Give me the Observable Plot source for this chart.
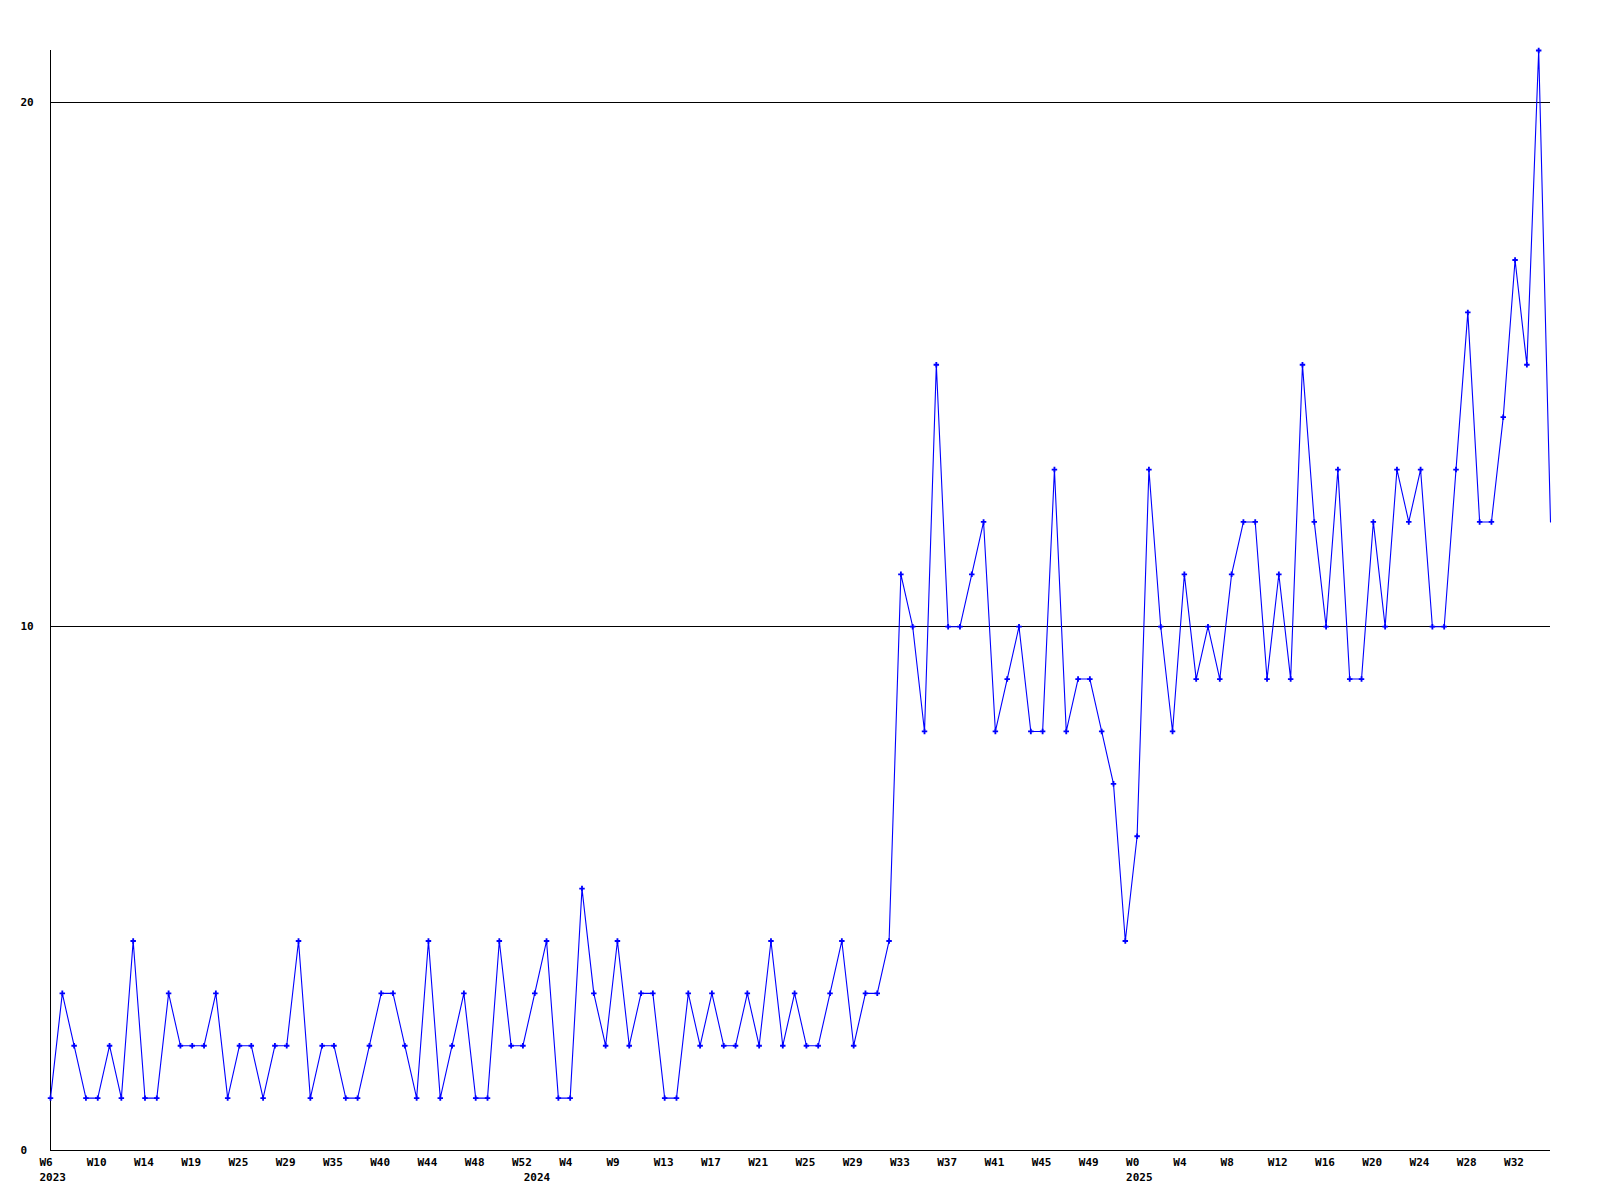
<!DOCTYPE html>
<html><head><meta charset="utf-8">
<script src="https://cdn.jsdelivr.net/npm/d3@7"></script>
<script src="https://cdn.jsdelivr.net/npm/@observablehq/plot@0.6"></script>
<style>body{margin:0;background:#fff}</style>
</head><body><div id="chart"></div>
<script>
const values = [
  1,3,2,1,1,2,1,4,1,1,3,2,2,2,3,1,2,2,1,2,2,4,1,2,2,1,1,2,3,3,2,1,4,1,2,3,1,1,4,2,2,3,4,1,
  1,5,3,2,4,2,3,3,1,1,3,2,3,2,2,3,2,4,2,3,2,2,3,4,2,3,3,4,
  11,10,8,15,10,10,11,12,8,9,10,8,8,13,8,9,9,8,7,4,6,13,10,8,11,9,10,9,11,
  12,12,9,11,9,15,12,10,13,9,9,12,10,13,12,13,10,10,13,16,12,12,14,17,15,21,12
];
const weekLabels = ["W6","W10","W14","W19","W25","W29","W35","W40","W44","W48","W52",
  "W4","W9","W13","W17","W21","W25","W29","W33","W37","W41","W45","W49",
  "W0","W4","W8","W12","W16","W20","W24","W28","W32"];
const labelStep = 4;
const yearLabels = ["2023","2024","2025"];
const yearStarts = [0,41,92];
const yTicks = [0,10,20];
const yMax = 21;

const data = values.map((v,i)=>({i, v}));
const tickIdx = weekLabels.map((_,k)=>k*labelStep);

const chart = Plot.plot({
  width:1600, height:1200, marginLeft:50, marginRight:50, marginTop:50, marginBottom:50,
  style:{fontFamily:"'DejaVu Sans Mono', monospace", fontSize:"11px", fontWeight:"bold", color:"#000", background:"#fff"},
  x:{type:"linear", domain:[0, values.length-1], axis:null},
  y:{domain:[0,yMax], axis:null},
  marks:[
    Plot.ruleY([10,20], {stroke:"#000", strokeWidth:1, shapeRendering:"crispEdges"}),
    Plot.ruleY([0], {stroke:"#000", shapeRendering:"crispEdges"}),
    Plot.ruleX([0], {stroke:"#000", shapeRendering:"crispEdges"}),
    Plot.line(data, {x:"i", y:"v", stroke:"#0000ff", strokeWidth:1.1}),
    Plot.dot(data.slice(0,-1), {x:"i", y:"v", symbol:"cross", r:2.3, fill:"#0000ff", stroke:"none"}),
    Plot.text(yTicks, {y:d=>d, text:d=>String(d), frameAnchor:"left", textAnchor:"start", dx:-30, fill:"#000"}),
    Plot.text(tickIdx, {x:d=>d, text:(d,k)=>weekLabels[k], frameAnchor:"bottom", textAnchor:"start", dx:-11, dy:15, fill:"#000"}),
    Plot.text(yearStarts, {x:d=>d, text:(d,k)=>yearLabels[k], frameAnchor:"bottom", textAnchor:"start", dx:-11, dy:30, fill:"#000"})
  ]
});
document.getElementById("chart").appendChild(chart);
</script>
</body></html>
